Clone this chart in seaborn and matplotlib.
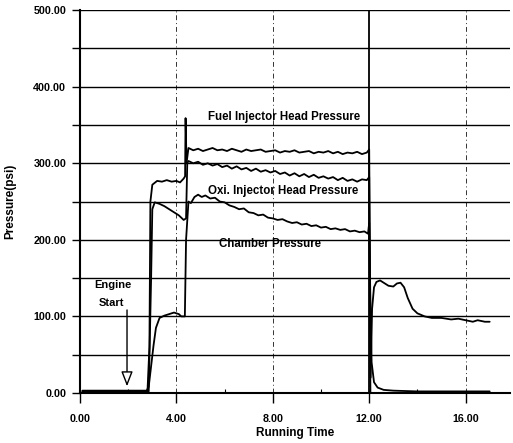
import matplotlib
matplotlib.use("Agg")
import matplotlib.pyplot as plt
import seaborn as sns
import pandas as pd

# ---- data (time in s, pressure in psi) ----
fuel = [(0.1, 3), (1.0, 3), (2.0, 3), (2.8, 3), (2.88, 60), (2.92, 250), (3.0, 272),
        (3.2, 277), (3.4, 276), (3.6, 278), (3.8, 276), (4.0, 277), (4.15, 275),
        (4.3, 280), (4.36, 283), (4.38, 359), (4.42, 300), (4.5, 320), (4.7, 317),
        (4.9, 319), (5.1, 316), (5.3, 318), (5.5, 320), (5.7, 317), (5.9, 318),
        (6.1, 316), (6.3, 319), (6.5, 317), (6.7, 315), (6.9, 318), (7.1, 316),
        (7.3, 317), (7.5, 318), (7.7, 315), (7.9, 316), (8.1, 317), (8.3, 314),
        (8.5, 316), (8.7, 315), (8.9, 317), (9.1, 314), (9.3, 315), (9.5, 316),
        (9.7, 313), (9.9, 315), (10.1, 314), (10.3, 316), (10.5, 313), (10.7, 315),
        (10.9, 312), (11.1, 314), (11.3, 313), (11.5, 315), (11.7, 312), (11.9, 314),
        (12.0, 318), (12.06, 20), (12.12, 110), (12.2, 138), (12.3, 145), (12.45, 147),
        (12.6, 144), (12.8, 140), (13.0, 139), (13.15, 143), (13.3, 144), (13.45, 138),
        (13.6, 124), (13.8, 110), (14.0, 104), (14.3, 100), (14.6, 98), (15.0, 98),
        (15.4, 96), (15.7, 97), (16.0, 95), (16.3, 93), (16.5, 95), (16.8, 93), (17.0, 93)]

oxi = [(0.1, 2), (2.0, 2), (2.85, 2), (2.95, 150), (3.0, 240), (3.1, 249), (3.3, 247),
       (3.5, 244), (3.7, 240), (3.9, 236), (4.1, 232), (4.3, 226), (4.4, 228),
       (4.45, 300), (4.5, 303), (4.7, 300), (4.9, 302), (5.1, 298), (5.3, 300),
       (5.5, 297), (5.7, 299), (5.9, 295), (6.1, 297), (6.3, 293), (6.5, 296),
       (6.7, 292), (6.9, 294), (7.1, 290), (7.3, 293), (7.5, 289), (7.7, 291),
       (7.9, 288), (8.1, 290), (8.3, 286), (8.5, 288), (8.7, 284), (8.9, 287),
       (9.1, 283), (9.3, 286), (9.5, 282), (9.7, 285), (9.9, 281), (10.1, 283),
       (10.3, 280), (10.5, 282), (10.7, 278), (10.9, 281), (11.1, 277), (11.3, 279),
       (11.5, 276), (11.7, 279), (11.9, 278), (12.0, 282), (12.05, 0), (12.3, 0),
       (17.0, 0)]

chamber = [(0.1, 2), (2.0, 2), (2.75, 2), (2.85, 8), (2.95, 35), (3.05, 62), (3.15, 85),
           (3.3, 98), (3.5, 101), (3.7, 103), (3.9, 105), (4.0, 104), (4.1, 103),
           (4.2, 100), (4.35, 100), (4.4, 200), (4.5, 250), (4.6, 248), (4.75, 256),
           (4.9, 259), (5.05, 256), (5.2, 258), (5.4, 254), (5.6, 255), (5.8, 250),
           (6.0, 249), (6.2, 245), (6.4, 243), (6.6, 240), (6.8, 241), (7.0, 236),
           (7.2, 235), (7.4, 232), (7.6, 233), (7.8, 229), (8.0, 228), (8.2, 226),
           (8.4, 227), (8.6, 224), (8.8, 222), (9.0, 223), (9.2, 220), (9.4, 221),
           (9.6, 218), (9.8, 219), (10.0, 216), (10.2, 217), (10.4, 214), (10.6, 215),
           (10.8, 213), (11.0, 214), (11.2, 211), (11.4, 212), (11.6, 210), (11.8, 211),
           (11.95, 208), (12.0, 222), (12.05, 120), (12.1, 40), (12.2, 14), (12.35, 7),
           (12.6, 4), (13.0, 3), (14.0, 2), (15.0, 2), (16.0, 2), (17.0, 2)]

x_ticks = [0, 4, 8, 12, 16]
x_tick_labels = ["0.00", "4.00", "8.00", "12.00", "16.00"]
y_ticks = [0, 100, 200, 300, 400, 500]
y_tick_labels = ["0.00", "100.00", "200.00", "300.00", "400.00", "500.00"]
y_minor = [50, 150, 250, 350, 450]
x_minor = [2, 6, 10, 14]

labels = {
    "Fuel Injector Head Pressure": (5.3, 360),
    "Oxi. Injector Head Pressure": (5.3, 264),
    "Chamber Pressure": (5.75, 195),
}

sns.set_style("white")
plt.rcParams["font.family"] = ["Liberation Sans", "DejaVu Sans"]
plt.rcParams["text.color"] = "black"
plt.rcParams["axes.labelcolor"] = "black"
plt.rcParams["xtick.color"] = "black"
plt.rcParams["ytick.color"] = "black"

fig = plt.figure(figsize=(5.13, 4.43), dpi=100)
ax = fig.add_axes([0.156, 0.113, 0.838, 0.864])

for name, series in [("fuel", fuel), ("oxi", oxi), ("chamber", chamber)]:
    df = pd.DataFrame(series, columns=["time", "psi"])
    sns.lineplot(data=df, x="time", y="psi", ax=ax, color="black", lw=1.3,
                 estimator=None, sort=False)

ax.set_xlim(0, 17.84)
ax.set_ylim(0, 500)
ax.set_xticks(x_ticks)
ax.set_xticklabels(x_tick_labels)
ax.set_xticks(x_minor, minor=True)
ax.set_yticks(y_ticks)
ax.set_yticklabels(y_tick_labels)
ax.set_yticks(y_minor, minor=True)

for lab in ax.get_xticklabels() + ax.get_yticklabels():
    lab.set_fontsize(7.7)
    lab.set_fontweight("bold")
    lab.set_color("black")

ax.tick_params(axis="y", which="both", direction="out", length=6, width=1, pad=4,
               left=True, color="black")
ax.tick_params(axis="x", which="major", direction="out", length=7, width=1, pad=8,
               bottom=True, color="black")
ax.tick_params(axis="x", which="minor", direction="in", length=3, width=0.8,
               bottom=True, color="black")

ax.yaxis.grid(True, which="both", color="black", lw=1.0, ls="-")
ax.xaxis.grid(True, which="major", color="#333333", lw=0.7, ls=(0, (5, 3, 1, 3)))
for gl, xv in zip(ax.get_xgridlines(), x_ticks):
    if xv == 12:
        gl.set_linestyle("-")
        gl.set_color("black")
        gl.set_linewidth(1.3)

for side in ["top", "right"]:
    ax.spines[side].set_visible(False)
for side in ["left", "bottom"]:
    ax.spines[side].set_color("black")
    ax.spines[side].set_linewidth(1.5)

ax.set_xlabel("Running Time", fontsize=8.5, fontweight="bold", labelpad=2)
ax.set_ylabel("Pressure(psi)", fontsize=8.5, fontweight="bold", labelpad=12)

for txt, (tx, ty) in labels.items():
    ax.text(tx, ty, txt, fontsize=8.3, fontweight="bold", ha="left", va="center")

ax.text(1.35, 141, "Engine", fontsize=8, fontweight="bold", ha="center", va="center")
ax.text(1.3, 118, "Start", fontsize=8, fontweight="bold", ha="center", va="center")
ax.annotate("", xy=(1.95, 5), xytext=(1.95, 112),
            arrowprops=dict(arrowstyle="-|>,head_length=0.9,head_width=0.35",
                            fc="white", ec="black", lw=1.0))

fig.savefig("out.png", dpi=100)
